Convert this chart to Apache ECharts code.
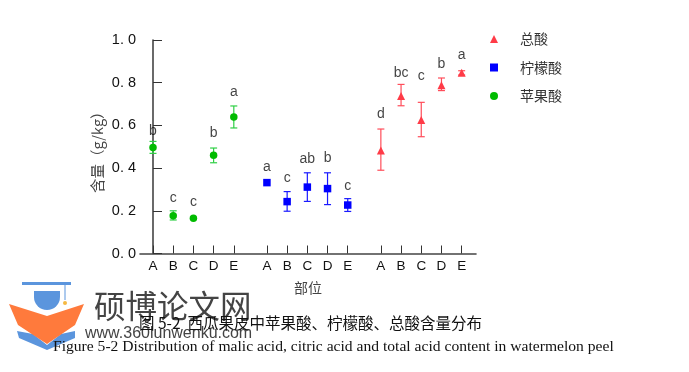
<!DOCTYPE html>
<html>
<head>
<meta charset="utf-8">
<style>
  html, body { margin: 0; padding: 0; background: #fff; }
  #main { width: 689px; height: 372px; }
</style>
</head>
<body>
<div id="main"></div>
<script src="https://cdn.jsdelivr.net/npm/echarts@6/dist/echarts.min.js"></script>
<script>
const parts = ['A', 'B', 'C', 'D', 'E'];
const yTicks = ['0. 0', '0. 2', '0. 4', '0. 6', '0. 8', '1. 0'];

// 苹果酸
const malicMean = [0.497, 0.177, 0.165, 0.46, 0.639];
const malicHigh = [0.525, 0.2, 0.165, 0.494, 0.691];
const malicLow = [0.469, 0.157, 0.165, 0.425, 0.588];
const malicLetters = ['b', 'c', 'c', 'b', 'a'];
const malicLetterAt = [0.574, 0.258, 0.242, 0.565, 0.756];

// 柠檬酸
const citricMean = [0.332, 0.243, 0.311, 0.304, 0.227];
const citricHigh = [0.332, 0.29, 0.378, 0.378, 0.257];
const citricLow = [0.332, 0.198, 0.244, 0.229, 0.197];
const citricLetters = ['a', 'c', 'ab', 'b', 'c'];
const citricLetterAt = [0.405, 0.354, 0.444, 0.447, 0.316];

// 总酸
const totalMean = [0.482, 0.738, 0.625, 0.788, 0.847];
const totalHigh = [0.583, 0.792, 0.708, 0.822, 0.856];
const totalLow = [0.39, 0.692, 0.547, 0.763, 0.836];
const totalLetters = ['d', 'bc', 'c', 'b', 'a'];
const totalLetterAt = [0.654, 0.846, 0.832, 0.888, 0.93];

const groupStep = 5.64;

const xOf = (group, i) => group * groupStep + i;
const allX = [];
[0, 1, 2].forEach(g => parts.forEach((p, i) => allX.push(xOf(g, i))));

function markerSeries(name, group, mean, symbol, color) {
  return {
    name: name,
    type: 'scatter',
    symbol: symbol,
    symbolSize: symbol === 'triangle' ? 8 : 7.5,
    itemStyle: { color: color, opacity: 1 },
    z: 5,
    data: mean.map((v, i) => [xOf(group, i), v])
  };
}

function errorSeries(group, high, low, color) {
  return {
    type: 'custom',
    z: 4,
    silent: true,
    data: high.map((v, i) => [xOf(group, i), v, low[i]]),
    renderItem: function (params, api) {
      const top = api.coord([api.value(0), api.value(1)]);
      const bottom = api.coord([api.value(0), api.value(2)]);
      if (top[1] === bottom[1]) return null;
      const style = { stroke: color, lineWidth: 1.2 };
      const cap = 3.5;
      return {
        type: 'group',
        children: [
          { type: 'line', shape: { x1: top[0], y1: top[1], x2: bottom[0], y2: bottom[1] }, style: style },
          { type: 'line', shape: { x1: top[0] - cap, y1: top[1], x2: top[0] + cap, y2: top[1] }, style: style },
          { type: 'line', shape: { x1: bottom[0] - cap, y1: bottom[1], x2: bottom[0] + cap, y2: bottom[1] }, style: style }
        ]
      };
    }
  };
}

function letterSeries(group, at, letters) {
  return {
    type: 'scatter',
    symbolSize: 1,
    itemStyle: { color: 'transparent' },
    silent: true,
    label: {
      show: true,
      position: 'inside',
      color: '#111',
      fontFamily: 'Liberation Sans',
      fontSize: 14,
      formatter: p => letters[p.dataIndex]
    },
    data: at.map((v, i) => [xOf(group, i), v])
  };
}

const myChart = echarts.init(document.getElementById('main'));

const option = {
  animation: false,
  backgroundColor: '#fff',
  grid: { left: 140, right: 213, top: 40, bottom: 118.5 },
  legend: {
    orient: 'vertical',
    left: 485,
    top: 25,
    itemGap: 10.5,
    itemWidth: 8,
    itemHeight: 8,
    selectedMode: false,
    textStyle: {
      fontFamily: 'Noto Sans CJK SC',
      fontSize: 14,
      color: '#333',
      padding: [0, 0, 0, 17],
      lineHeight: 18
    },
    data: [
      { name: '总酸', icon: 'triangle' },
      { name: '柠檬酸', icon: 'rect' },
      { name: '苹果酸', icon: 'circle' }
    ]
  },
  xAxis: {
    type: 'value',
    min: -0.644,
    max: 15.99,
    splitLine: { show: false },
    name: '部位',
    nameLocation: 'middle',
    nameGap: 27,
    nameTextStyle: { fontFamily: 'Noto Sans CJK SC', fontSize: 14, color: '#444' },
    axisLine: { lineStyle: { color: '#444', width: 1.6 } },
    axisTick: { inside: true, length: 8, customValues: allX, lineStyle: { color: '#333', width: 1 } },
    axisLabel: {
      customValues: allX,
      margin: 6,
      fontFamily: 'Liberation Sans',
      fontSize: 13.5,
      color: '#111',
      formatter: v => parts[allX.indexOf(v) % 5]
    }
  },
  yAxis: {
    type: 'value',
    min: 0,
    max: 1,
    interval: 0.2,
    splitLine: { show: false },
    name: '含量（g/kg）',
    nameLocation: 'middle',
    nameGap: 35.5,
    nameTextStyle: { fontFamily: 'Noto Sans CJK SC', fontSize: 14.5, color: '#444', padding: [0, 4, 0, 0] },
    axisLine: { show: true, lineStyle: { color: '#444', width: 1.6 } },
    axisTick: { show: true, inside: true, length: 9, lineStyle: { color: '#333', width: 1 } },
    axisLabel: {
      margin: 4,
      fontFamily: 'Liberation Sans',
      fontSize: 14.5,
      color: '#111',
      formatter: v => yTicks[Math.round(v * 5)]
    }
  },
  series: [
    errorSeries(0, malicHigh, malicLow, '#2fcf45'),
    errorSeries(1, citricHigh, citricLow, '#1a1aff'),
    errorSeries(2, totalHigh, totalLow, '#ff4d5a'),
    markerSeries('苹果酸', 0, malicMean, 'circle', '#00bb00'),
    markerSeries('柠檬酸', 1, citricMean, 'rect', '#0000ff'),
    markerSeries('总酸', 2, totalMean, 'triangle', '#ff3b47'),
    letterSeries(0, malicLetterAt, malicLetters),
    letterSeries(1, citricLetterAt, citricLetters),
    letterSeries(2, totalLetterAt, totalLetters)
  ],
  graphic: [
    // watermark logo
    { type: 'rect', shape: { x: 22, y: 282, width: 49, height: 3 }, style: { fill: '#5b95dd' } },
    { type: 'rect', shape: { x: 34, y: 291, width: 26, height: 19, r: [0, 0, 13, 13] }, style: { fill: '#5b95dd' } },
    { type: 'line', shape: { x1: 65, y1: 285, x2: 65, y2: 300 }, style: { stroke: '#5b95dd', lineWidth: 1 } },
    { type: 'circle', shape: { cx: 65, cy: 303, r: 2 }, style: { fill: '#f5b942' } },
    { type: 'polygon', shape: { points: [[17, 331], [33, 334], [47, 345], [61, 334], [75, 331], [75, 338], [47, 350], [19, 338]] }, style: { fill: '#5b95dd' } },
    { type: 'polygon', shape: { points: [[9, 304], [47, 316], [84, 304], [75, 325], [47, 344], [18, 325]] }, style: { fill: '#ff7a3c' } },
    { type: 'text', x: 94, y: 290, style: { text: '硕博论文网', fill: '#444', font: '31.5px "Noto Sans CJK SC"' } },
    { type: 'text', x: 85, y: 326, style: { text: 'www.360lunwenku.com', fill: '#444', font: '16px "Liberation Sans"' } },
    // captions
    { type: 'text', x: 139, y: 315, z: 10, style: { text: '图 5-2  西瓜果皮中苹果酸、柠檬酸、总酸含量分布', fill: '#111', font: '15.5px "Noto Sans CJK SC"' } },
    { type: 'text', x: 53, y: 339, z: 10, style: { text: 'Figure 5-2 Distribution of malic acid, citric acid and total acid content in watermelon peel', fill: '#111', font: '15.6px "Liberation Serif"' } }
  ]
};

option && myChart.setOption(option);
</script>
</body>
</html>
